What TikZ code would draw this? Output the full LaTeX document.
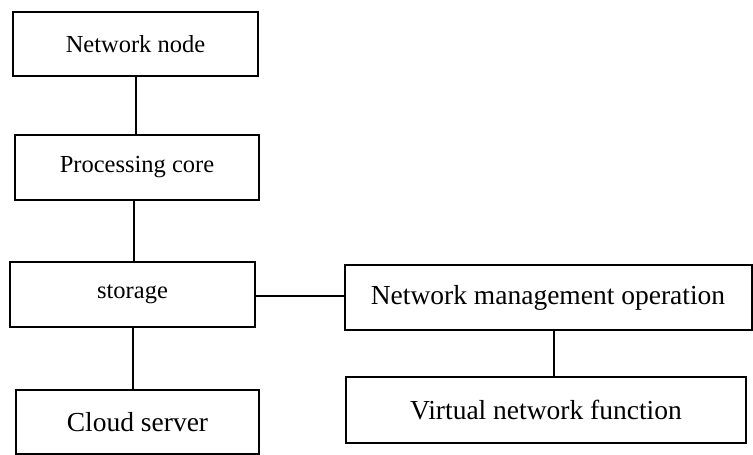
\documentclass[tikz,border=0pt]{standalone}
\usepackage{fontspec}
\setmainfont{Liberation Serif}
\begin{document}
\begin{tikzpicture}[x=1pt,y=-1pt,
  blockbox/.style={draw=black, line width=2pt, rectangle, inner sep=0pt, anchor=center},
  smalltext/.style={font=\fontsize{24.5}{28}\selectfont},
  bigtext/.style={font=\fontsize{27.5}{31}\selectfont},
  link/.style={draw=black, line width=2pt}]
  \useasboundingbox (0,0) rectangle (753,455);

  % left column
  \node[blockbox, smalltext, minimum width=245pt, minimum height=64pt] (nn) at (135.5,44) {Network node};
  \node[blockbox, smalltext, minimum width=244pt, minimum height=65pt] (pc) at (137,167.5) {Processing core};
  \node[blockbox, smalltext, minimum width=245pt, minimum height=65pt] (st) at (132.5,294.5) {storage};
  \node[blockbox, bigtext, minimum width=243pt, minimum height=64pt] (cs) at (137.5,422) {Cloud server};

  % right column
  \node[blockbox, bigtext, minimum width=407pt, minimum height=65pt] (nmo) at (548,297.5) {Network management operation};
  \node[blockbox, bigtext, minimum width=400pt, minimum height=66pt] (vnf) at (546,410) {Virtual network function};

  % connectors
  \coordinate (pcs) at ([xshift=-3pt]pc.south);
  \coordinate (nmos) at ([xshift=6pt]nmo.south);
  \coordinate (ste) at ([yshift=-1.5pt]st.east);
  \draw[link] (nn.south) -- (nn.south |- pc.north);
  \draw[link] (pcs) -- (pcs |- st.north);
  \draw[link] (st.south) -- (st.south |- cs.north);
  \draw[link] (ste) -- (ste -| nmo.west);
  \draw[link] (nmos) -- (nmos |- vnf.north);
\end{tikzpicture}
\end{document}
